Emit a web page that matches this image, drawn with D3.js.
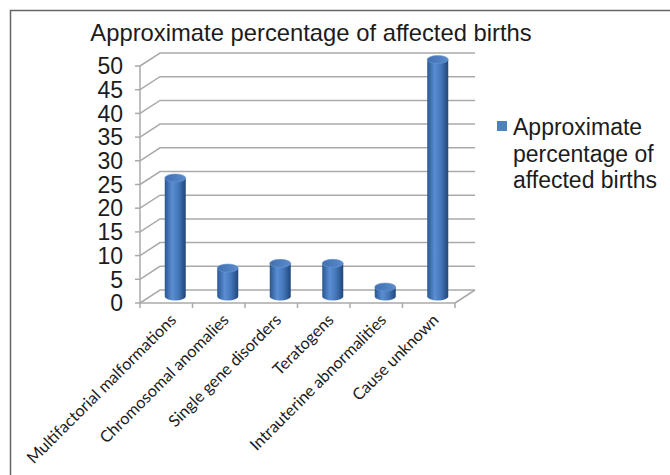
<!DOCTYPE html>
<html lang="en">
<head>
    <meta charset="UTF-8">
    <title>Approximate percentage of affected births</title>
    <style>
        body {
            margin: 0;
            background-color: #fff;
        }
        svg text {
            fill: #1c1c1c;
        }
    </style>
    <script src="https://d3js.org/d3.v7.min.js"></script>
</head>
<body>
    <div id="chart"></div>

    <script>
        // data
        const categories = ["Multifactorial malformations", "Chromosomal anomalies", "Single gene disorders",
            "Teratogens", "Intrauterine abnormalities", "Cause unknown"];
        const values = [25, 6, 7, 7, 2, 50];
        const yTicks = [0, 5, 10, 15, 20, 25, 30, 35, 40, 45, 50];
        const seriesName = "Approximate percentage of affected births";

        const width = 670;
        const height = 475;
        const depthX = 20, depthY = -13; // fake 3d offset of the back wall

        const svg = d3.select("#chart").append("svg")
            .attr("width", width)
            .attr("height", height);

        // outer frame
        svg.append("rect")
            .attr("x", 10.5).attr("y", 10.5)
            .attr("width", 700).attr("height", 500)
            .attr("fill", "none")
            .attr("stroke", "#666")
            .attr("stroke-width", 1.5);

        svg.append("text")
            .attr("x", 311).attr("y", 41)
            .attr("text-anchor", "middle")
            .attr("font-family", "Liberation Sans, Arial, sans-serif")
            .attr("font-size", 23.8)
            .text(seriesName);

        const x = d3.scaleBand().domain(categories).range([140, 455]);
        const y = d3.scaleLinear().domain([0, 50]).range([303, 66]);

        const grid = svg.append("g")
            .attr("stroke", "#aaa")
            .attr("stroke-width", 1.5)
            .attr("fill", "none");

        // gridlines: diagonal from front axis then along back wall
        grid.selectAll("path.grid")
            .data(yTicks)
            .join("path")
            .attr("class", "grid")
            .attr("d", d => `M${x.range()[0]},${y(d)} L${x.range()[0] + depthX},${y(d) + depthY} L${x.range()[1] + depthX},${y(d) + depthY}`);

        // front vertical axis + ticks
        grid.append("line")
            .attr("x1", 140).attr("x2", 140)
            .attr("y1", y(0)).attr("y2", y(50));
        grid.selectAll("line.ytick")
            .data(yTicks)
            .join("line")
            .attr("class", "ytick")
            .attr("x1", 135).attr("x2", 140)
            .attr("y1", d => y(d)).attr("y2", d => y(d));

        // floor: front edge, right edge, category ticks
        grid.append("line")
            .attr("x1", x.range()[0]).attr("x2", x.range()[1])
            .attr("y1", y(0)).attr("y2", y(0));
        grid.append("line")
            .attr("x1", x.range()[1]).attr("x2", x.range()[1] + depthX)
            .attr("y1", y(0)).attr("y2", y(0) + depthY);
        const bounds = categories.map(c => x(c)).concat([x.range()[1]]);
        grid.selectAll("line.xtick")
            .data(bounds)
            .join("line")
            .attr("class", "xtick")
            .attr("x1", d => d).attr("x2", d => d)
            .attr("y1", y(0)).attr("y2", y(0) + 5);

        svg.append("g")
            .selectAll("text")
            .data(yTicks)
            .join("text")
            .attr("x", 123)
            .attr("y", d => y(d))
            .attr("dy", "0.36em")
            .attr("text-anchor", "end")
            .attr("font-family", "Liberation Sans, Arial, sans-serif")
            .attr("font-size", 23)
            .text(d => d);

        // cylinder gradients
        const defs = svg.append("defs");
        const bodyGrad = defs.append("linearGradient").attr("id", "cylBody");
        bodyGrad.append("stop").attr("offset", "0%").attr("stop-color", "#2a5690");
        bodyGrad.append("stop").attr("offset", "35%").attr("stop-color", "#5a8ed2");
        bodyGrad.append("stop").attr("offset", "65%").attr("stop-color", "#4477ba");
        bodyGrad.append("stop").attr("offset", "100%").attr("stop-color", "#214679");
        const topGrad = defs.append("linearGradient").attr("id", "cylTop");
        topGrad.append("stop").attr("offset", "0%").attr("stop-color", "#4170b0");
        topGrad.append("stop").attr("offset", "100%").attr("stop-color", "#5a8bcc");

        const r = 10.5, ry = 4;
        const cx = c => x(c) + x.bandwidth() / 2 + depthX / 2 - 1;
        const midY = v => y(v) + depthY / 2;

        const bars = svg.append("g")
            .selectAll("g")
            .data(values.map((v, i) => ({ cat: categories[i], v: v })))
            .join("g");

        bars.append("path")
            .attr("fill", "url(#cylBody)")
            .attr("d", d => {
                const c = cx(d.cat), t = midY(d.v), b = midY(0);
                return `M${c - r},${t} L${c - r},${b} A${r},${ry} 0 0 0 ${c + r},${b} L${c + r},${t} Z`;
            });
        bars.append("ellipse")
            .attr("cx", d => cx(d.cat))
            .attr("cy", d => midY(d.v))
            .attr("rx", r).attr("ry", ry)
            .attr("fill", "url(#cylTop)")
            .attr("stroke", "#6a97d3")
            .attr("stroke-width", 0.6);

        // rotated category labels
        svg.append("g")
            .selectAll("text")
            .data(categories)
            .join("text")
            .attr("text-anchor", "end")
            .attr("font-family", "Lato, 'Open Sans', sans-serif")
            .attr("font-size", 16.3)
            .attr("transform", d => `translate(${x(d) + x.bandwidth() / 2 + 11},321) rotate(-45)`)
            .text(d => d);

        // legend
        const legend = svg.append("g");
        legend.append("rect")
            .attr("x", 497).attr("y", 121)
            .attr("width", 10).attr("height", 10)
            .attr("fill", "#4f81bd");
        legend.append("text")
            .attr("font-family", "Liberation Sans, Arial, sans-serif")
            .attr("font-size", 23)
            .selectAll("tspan")
            .data(["Approximate", "percentage of", "affected births"])
            .join("tspan")
            .attr("x", 513)
            .attr("y", (d, i) => 135 + i * 26.5)
            .text(d => d);
    </script>
</body>
</html>
